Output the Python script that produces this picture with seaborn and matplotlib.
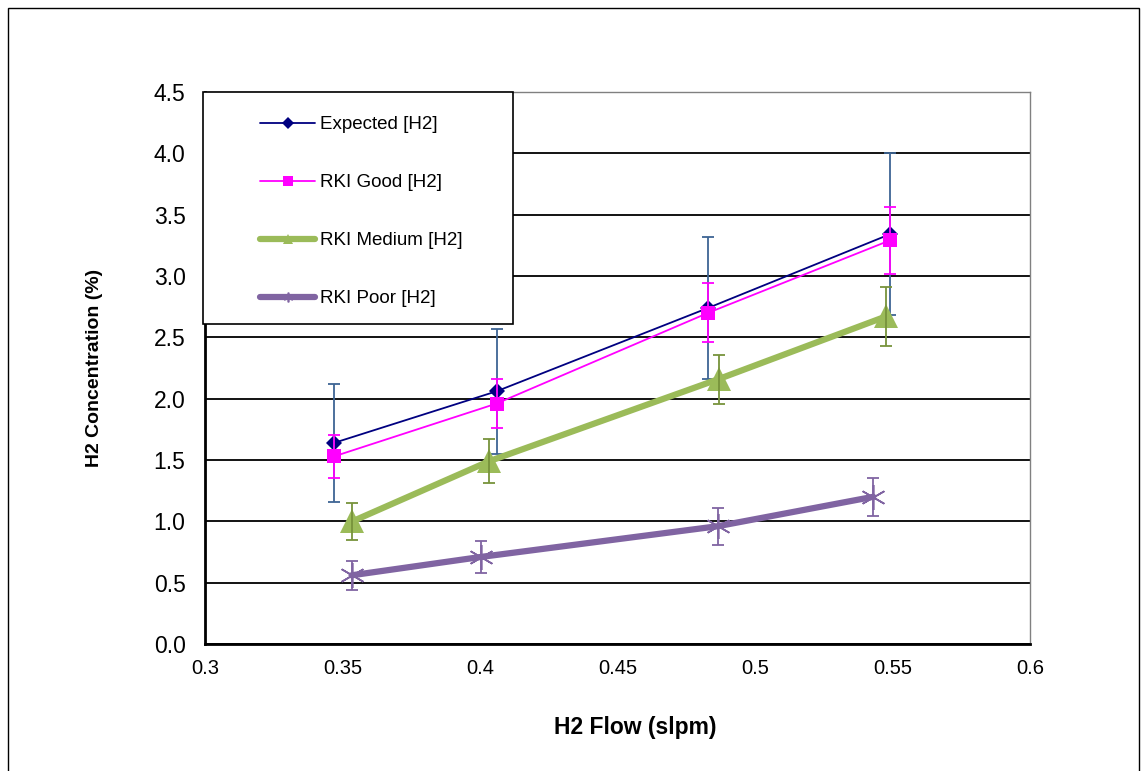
import matplotlib
matplotlib.use("Agg")
import matplotlib.pyplot as plt
import seaborn as sns
import pandas as pd
from matplotlib.lines import Line2D
from matplotlib.patches import Rectangle

# ---- data ----
exp_x = [0.347, 0.406, 0.483, 0.549]
exp_y = [1.64, 2.06, 2.74, 3.34]
exp_err = [0.48, 0.51, 0.58, 0.66]

good_x = [0.347, 0.406, 0.483, 0.549]
good_y = [1.53, 1.96, 2.70, 3.29]
good_err = [0.175, 0.20, 0.24, 0.27]

med_x = [0.3536, 0.4033, 0.4868, 0.5476]
med_y = [1.00, 1.49, 2.16, 2.67]
med_err = [0.15, 0.18, 0.20, 0.24]

poor_x = [0.3533, 0.4004, 0.4864, 0.543]
poor_y = [0.56, 0.71, 0.96, 1.20]
poor_err = [0.12, 0.13, 0.15, 0.155]

labels = ["Expected [H2]", "RKI Good [H2]", "RKI Medium [H2]", "RKI Poor [H2]"]
x_ticks = [0.3, 0.35, 0.4, 0.45, 0.5, 0.55, 0.6]
x_tick_labels = ["0.3", "0.35", "0.4", "0.45", "0.5", "0.55", "0.6"]
y_ticks = [0.0, 0.5, 1.0, 1.5, 2.0, 2.5, 3.0, 3.5, 4.0, 4.5]

sns.set_style("white")
plt.rcParams["font.family"] = ["Liberation Sans", "DejaVu Sans"]
plt.rcParams["text.color"] = "black"
plt.rcParams["axes.labelcolor"] = "black"
plt.rcParams["xtick.color"] = "black"
plt.rcParams["ytick.color"] = "black"

fig = plt.figure(figsize=(11.46, 7.71), dpi=100)
ax = fig.add_axes([205 / 1146, 1 - 644 / 771, 825 / 1146, 552 / 771])

series = [
    dict(x=exp_x, y=exp_y, e=exp_err, color="#000080", ecolor="#3E6594", lw=1.3,
         marker="D", ms=8, mew=0, legms=6),
    dict(x=good_x, y=good_y, e=good_err, color="#FF00FF", ecolor="#FF00FF", lw=1.3,
         marker="s", ms=10, mew=0, legms=7),
    dict(x=med_x, y=med_y, e=med_err, color="#9BBB59", ecolor="#77933C", lw=4.5,
         marker="^", ms=17, mew=0, legms=7),
    dict(x=poor_x, y=poor_y, e=poor_err, color="#8064A2", ecolor="#8064A2", lw=4.5,
         marker=(6, 2, 0), ms=18, mew=1.2, legms=7),
]

handles = []
for i, s in enumerate(series):
    df = pd.DataFrame({"x": s["x"], "y": s["y"]})
    sns.lineplot(data=df, x="x", y="y", ax=ax, color=s["color"], lw=s["lw"],
                 marker=s["marker"], markersize=s["ms"], markeredgewidth=s["mew"],
                 markeredgecolor=s["color"], sort=False, legend=False,
                 zorder=3 + i * 0.1)
    ax.errorbar(s["x"], s["y"], yerr=s["e"], fmt="none", ecolor=s["ecolor"],
                elinewidth=1.3, capsize=4, capthick=1.3, zorder=3 + i * 0.1 + 0.05)
    handles.append(Line2D([], [], color=s["color"], lw=s["lw"], marker=s["marker"],
                          markersize=s["legms"], markeredgewidth=s["mew"],
                          markeredgecolor=s["color"]))

ax.set_xlim(0.3, 0.6)
ax.set_ylim(0, 4.5)
ax.set_xticks(x_ticks)
ax.set_xticklabels(x_tick_labels)
ax.set_yticks(y_ticks)
ax.set_yticklabels([f"{v:.1f}" for v in y_ticks])
ax.tick_params(axis="x", direction="out", length=5, width=1.2, color="black",
               labelsize=14.5, pad=6, labelcolor="black")
ax.tick_params(axis="y", length=0, labelsize=16.5, pad=14, labelcolor="black")

ax.yaxis.grid(True, color="black", lw=1.3, zorder=1)
ax.xaxis.grid(False)
ax.set_axisbelow(True)

for side in ["left", "bottom"]:
    ax.spines[side].set_color("black")
    ax.spines[side].set_linewidth(2)
for side in ["top", "right"]:
    ax.spines[side].set_color("#808080")
    ax.spines[side].set_linewidth(1)

ax.set_xlabel("H2 Flow (slpm)", fontsize=16.5, fontweight="bold", color="black")
ax.set_ylabel("H2 Concentration (%)", fontsize=14, fontweight="bold", color="black")
ax.xaxis.set_label_coords(0.521, -0.130)
ax.yaxis.set_label_coords(-0.1236, 0.5)

# legend box
box = Rectangle((-0.0024, 0.58), 0.3757, 0.42, transform=ax.transAxes,
                facecolor="white", edgecolor="black", lw=1.2, zorder=6, clip_on=False)
ax.add_patch(box)
leg = ax.legend(handles, labels, loc="upper left", bbox_to_anchor=(0.0667, 0.9565),
                frameon=False, fontsize=13.5, labelspacing=2.18, handlelength=2.95,
                handletextpad=0.27, borderpad=0, borderaxespad=0)
leg.set_zorder(7)
for t in leg.get_texts():
    t.set_color("black")

# outer chart border
fig.patches.append(Rectangle((8 / 1146, -0.01), (1139 - 8) / 1146, (771 - 8) / 771 + 0.01,
                             transform=fig.transFigure, fill=False, edgecolor="black",
                             lw=1, zorder=0))

fig.savefig("out.png", dpi=100)
